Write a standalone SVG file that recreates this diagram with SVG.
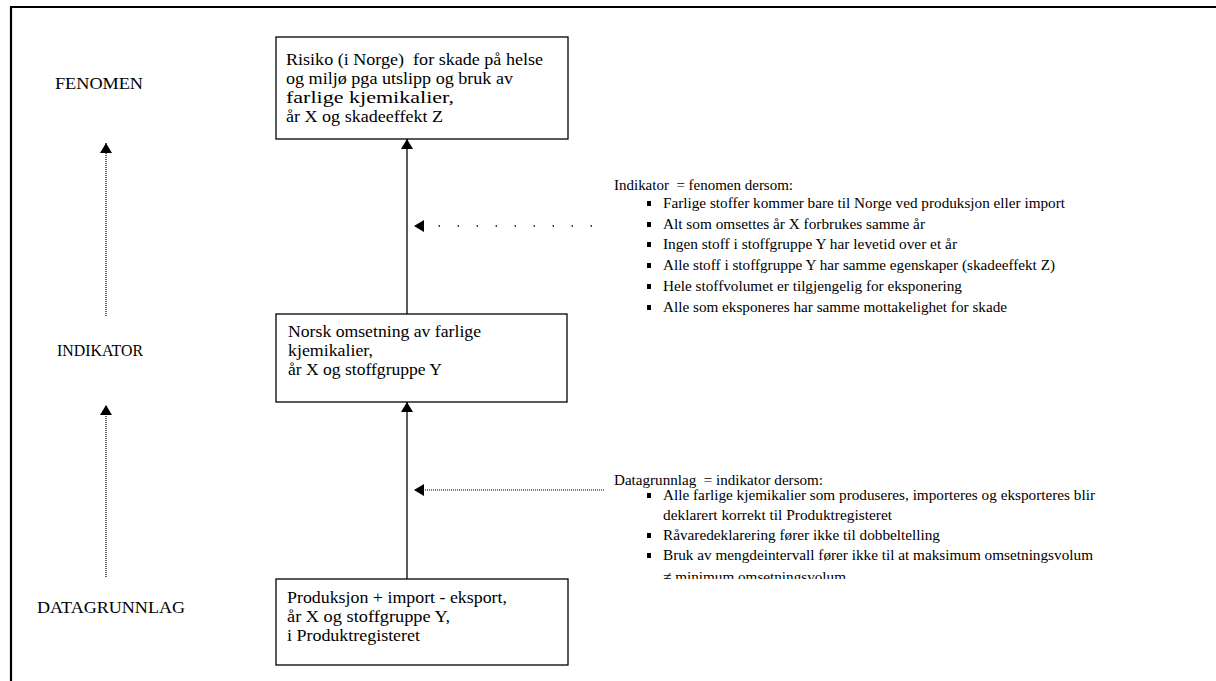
<svg xmlns="http://www.w3.org/2000/svg" width="1216" height="681" viewBox="0 0 1216 681">
<style>
text{font-family:"Liberation Serif","Times New Roman","DejaVu Serif",serif;fill:#000;white-space:pre;}
.lbl{font-size:16px;}
.bx{font-size:16px;}
.rt{font-size:15px;}
.box{fill:#fff;stroke:#000;stroke-width:1.3;}
.solid{stroke:#000;stroke-width:1.3;fill:none;}
.dots{stroke:#000;stroke-width:1.2;fill:none;stroke-dasharray:1 1;}
.sparse{stroke:#000;stroke-width:1.4;fill:none;stroke-dasharray:1.4 17.6;}
.blt{fill:#000;}
</style>
<defs>
<marker id="ah" viewBox="0 0 10 12" refX="10" refY="6" markerWidth="10" markerHeight="12" markerUnits="userSpaceOnUse" orient="auto">
<path d="M0,0 L10,6 L0,12 Z" fill="#000"/>
</marker>
<clipPath id="clipB"><rect x="600" y="440" width="616" height="139"/></clipPath>
</defs>
<rect x="0" y="0" width="1216" height="681" fill="#fff"/>
<g id="frame">
<line x1="11" y1="7" x2="1216" y2="7" stroke="#000" stroke-width="2.2"/>
<line x1="11" y1="6" x2="11" y2="681" stroke="#000" stroke-width="2.2"/>
</g>
<g id="levels">
<text class="lbl" x="55" y="89" textLength="88" lengthAdjust="spacingAndGlyphs">FENOMEN</text>
<text class="lbl" x="57" y="356" textLength="86" lengthAdjust="spacingAndGlyphs">INDIKATOR</text>
<text class="lbl" x="37" y="613" textLength="148" lengthAdjust="spacingAndGlyphs">DATAGRUNNLAG</text>
</g>
<g id="connectors">
<line class="solid" x1="407" y1="314" x2="407" y2="139" marker-end="url(#ah)"/>
<line class="solid" x1="407" y1="579" x2="407" y2="402" marker-end="url(#ah)"/>
<line class="dots" x1="106" y1="316" x2="106" y2="143" marker-end="url(#ah)"/>
<line class="dots" x1="106" y1="577" x2="106" y2="405" marker-end="url(#ah)"/>
<line class="sparse" x1="592" y1="226" x2="414" y2="226" marker-end="url(#ah)"/>
<line class="dots" x1="604" y1="490" x2="414" y2="490" marker-end="url(#ah)"/>
</g>
<g id="node-fenomen">
<rect class="box" x="276" y="37" width="292" height="102"/>
<text class="bx" x="286" y="65" textLength="257" lengthAdjust="spacingAndGlyphs">Risiko (i Norge)  for skade på helse</text>
<text class="bx" x="286" y="84" textLength="227" lengthAdjust="spacingAndGlyphs">og miljø pga utslipp og bruk av</text>
<text class="bx" x="286" y="103" textLength="168" lengthAdjust="spacingAndGlyphs">farlige kjemikalier,</text>
<text class="bx" x="286" y="122" textLength="157" lengthAdjust="spacingAndGlyphs">år X og skadeeffekt Z</text>
</g>
<g id="node-indikator">
<rect class="box" x="276" y="314" width="291" height="88"/>
<text class="bx" x="288" y="337" textLength="193" lengthAdjust="spacingAndGlyphs">Norsk omsetning av farlige</text>
<text class="bx" x="288" y="356" textLength="85" lengthAdjust="spacingAndGlyphs">kjemikalier,</text>
<text class="bx" x="288" y="375" textLength="154" lengthAdjust="spacingAndGlyphs">år X og stoffgruppe Y</text>
</g>
<g id="node-datagrunnlag">
<rect class="box" x="276" y="579" width="292" height="86"/>
<text class="bx" x="287" y="603" textLength="220" lengthAdjust="spacingAndGlyphs">Produksjon + import - eksport,</text>
<text class="bx" x="287" y="622" textLength="163" lengthAdjust="spacingAndGlyphs">år X og stoffgruppe Y,</text>
<text class="bx" x="287" y="641" textLength="133" lengthAdjust="spacingAndGlyphs">i Produktregisteret</text>
</g>
<g id="cond-indikator">
<text class="rt" x="614" y="190" textLength="179" lengthAdjust="spacingAndGlyphs">Indikator  = fenomen dersom:</text>
<rect class="blt" x="647" y="201" width="4" height="5"/>
<text class="rt" x="663" y="208" textLength="402" lengthAdjust="spacingAndGlyphs">Farlige stoffer kommer bare til Norge ved produksjon eller import</text>
<rect class="blt" x="647" y="222" width="4" height="5"/>
<text class="rt" x="663" y="229" textLength="262" lengthAdjust="spacingAndGlyphs">Alt som omsettes år X forbrukes samme år</text>
<rect class="blt" x="647" y="242" width="4" height="5"/>
<text class="rt" x="663" y="249" textLength="294" lengthAdjust="spacingAndGlyphs">Ingen stoff i stoffgruppe Y har levetid over et år</text>
<rect class="blt" x="647" y="263" width="4" height="5"/>
<text class="rt" x="663" y="270" textLength="392" lengthAdjust="spacingAndGlyphs">Alle stoff i stoffgruppe Y har samme egenskaper (skadeeffekt Z)</text>
<rect class="blt" x="647" y="284" width="4" height="5"/>
<text class="rt" x="663" y="291" textLength="299" lengthAdjust="spacingAndGlyphs">Hele stoffvolumet er tilgjengelig for eksponering</text>
<rect class="blt" x="647" y="305" width="4" height="5"/>
<text class="rt" x="663" y="312" textLength="344" lengthAdjust="spacingAndGlyphs">Alle som eksponeres har samme mottakelighet for skade</text>
</g>
<g id="cond-datagrunnlag" clip-path="url(#clipB)">
<text class="rt" x="614" y="485" textLength="209" lengthAdjust="spacingAndGlyphs">Datagrunnlag  = indikator dersom:</text>
<rect class="blt" x="647" y="493" width="4" height="5"/>
<text class="rt" x="663" y="500" textLength="432" lengthAdjust="spacingAndGlyphs">Alle farlige kjemikalier som produseres, importeres og eksporteres blir</text>
<text class="rt" x="663" y="520" textLength="229" lengthAdjust="spacingAndGlyphs">deklarert korrekt til Produktregisteret</text>
<rect class="blt" x="647" y="533" width="4" height="5"/>
<text class="rt" x="663" y="540" textLength="277" lengthAdjust="spacingAndGlyphs">Råvaredeklarering fører ikke til dobbeltelling</text>
<rect class="blt" x="647" y="553" width="4" height="5"/>
<text class="rt" x="663" y="560" textLength="430" lengthAdjust="spacingAndGlyphs">Bruk av mengdeintervall fører ikke til at maksimum omsetningsvolum</text>
<text class="rt" x="663" y="582" textLength="183" lengthAdjust="spacingAndGlyphs">≠ minimum omsetningsvolum</text>
</g>
</svg>
